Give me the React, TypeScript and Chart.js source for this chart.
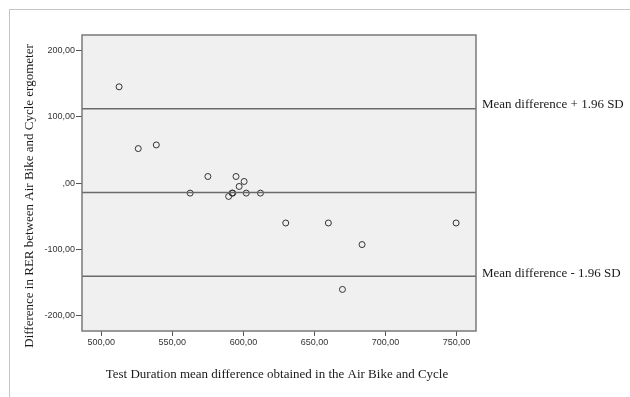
import React, { useEffect, useRef } from "react";
import { Chart, registerables } from "chart.js";

Chart.register(...registerables);

// Data (Bland–Altman style plot)
const xValues = [512.5, 526, 538.7, 562.5, 575, 589.6, 592, 592.5, 594.8, 597, 600.5, 602, 612, 629.8, 659.8, 669.7, 683.5, 749.7];
const yValues = [145, 52, 57.5, -15, 10, -20, -15, -15, 10, -5, 2.5, -15, -15, -60, -60, -160, -92.5, -60];

const meanDifference = -14;
const upperLimit = 112;
const lowerLimit = -140;

const xMin = 486.4;
const xMax = 763.7;
const yMin = -222.6;
const yMax = 223;

const xTicks = [500, 550, 600, 650, 700, 750];
const xTickLabels = ["500,00", "550,00", "600,00", "650,00", "700,00", "750,00"];
const yTicks = [-200, -100, 0, 100, 200];
const yTickLabels = ["-200,00", "-100,00", ",00", "100,00", "200,00"];

const xTitle = "Test Duration mean difference obtained in the Air Bike and Cycle";
const yTitle = "Difference in RER between Air Bike and Cycle ergometer";
const upperLabel = "Mean difference + 1.96 SD";
const lowerLabel = "Mean difference - 1.96 SD";

const SERIF = "'Liberation Serif', 'Times New Roman', serif";
const SANS = "'Liberation Sans', Arial, sans-serif";

export default function App() {
  const canvasRef = useRef<HTMLCanvasElement | null>(null);

  useEffect(() => {
    const canvas = canvasRef.current;
    if (!canvas) return;

    const points = xValues.map((x, i) => ({ x, y: yValues[i] }));
    const hLine = (v: number) => [
      { x: xMin, y: v },
      { x: xMax, y: v },
    ];

    const plotFrame = {
      id: "plotFrame",
      beforeDatasetsDraw(chart: any) {
        const { ctx, chartArea } = chart;
        ctx.save();
        ctx.fillStyle = "#f0f0f0";
        ctx.fillRect(chartArea.left, chartArea.top, chartArea.right - chartArea.left, chartArea.bottom - chartArea.top);
        ctx.restore();
      },
      afterDraw(chart: any) {
        const { ctx, chartArea, scales } = chart;
        ctx.save();
        ctx.strokeStyle = "#7a7a7a";
        ctx.lineWidth = 1.5;
        ctx.strokeRect(chartArea.left, chartArea.top, chartArea.right - chartArea.left, chartArea.bottom - chartArea.top);

        ctx.fillStyle = "#1a1a1a";
        ctx.font = `13px ${SERIF}`;
        ctx.textBaseline = "middle";
        ctx.textAlign = "left";
        ctx.fillText(upperLabel, chartArea.right + 6, scales.y.getPixelForValue(upperLimit) - 4);
        ctx.fillText(lowerLabel, chartArea.right + 6, scales.y.getPixelForValue(lowerLimit) - 3);

        ctx.textAlign = "center";
        ctx.fillText(xTitle, 277, 375);

        ctx.translate(30, 196);
        ctx.rotate(-Math.PI / 2);
        ctx.fillText(yTitle, 0, 0);
        ctx.restore();
      },
    };

    const chart = new Chart(canvas, {
      type: "scatter",
      data: {
        datasets: [
          {
            type: "line",
            data: hLine(upperLimit),
            borderColor: "#6a6a6a",
            borderWidth: 1.5,
            pointRadius: 0,
          },
          {
            type: "line",
            data: hLine(meanDifference),
            borderColor: "#6a6a6a",
            borderWidth: 1.5,
            pointRadius: 0,
          },
          {
            type: "line",
            data: hLine(lowerLimit),
            borderColor: "#6a6a6a",
            borderWidth: 1.5,
            pointRadius: 0,
          },
          {
            type: "scatter",
            data: points,
            pointRadius: 3,
            pointBorderWidth: 1,
            pointBorderColor: "#333",
            pointBackgroundColor: "rgba(0,0,0,0)",
          },
        ],
      } as any,
      options: {
        animation: false,
        responsive: false,
        devicePixelRatio: 1,
        layout: { padding: { left: 0, top: 35, right: 154, bottom: 0 } },
        plugins: { legend: { display: false }, tooltip: { enabled: false } },
        scales: {
          x: {
            type: "linear",
            min: xMin,
            max: xMax,
            afterFit(scale: any) {
              scale.height = 66;
            },
            afterBuildTicks(scale: any) {
              scale.ticks = xTicks.map((v) => ({ value: v }));
            },
            ticks: {
              callback: (v: any) => xTickLabels[xTicks.indexOf(Number(v))] ?? "",
              font: { family: SANS, size: 9 },
              color: "#333",
              padding: 1,
              maxRotation: 0,
            },
            grid: {
              drawOnChartArea: false,
              drawTicks: true,
              tickLength: 5,
              color: "#555",
            },
            border: { display: false },
          },
          y: {
            type: "linear",
            min: yMin,
            max: yMax,
            afterFit(scale: any) {
              scale.width = 82;
            },
            afterBuildTicks(scale: any) {
              scale.ticks = yTicks.map((v) => ({ value: v }));
            },
            ticks: {
              callback: (v: any) => yTickLabels[yTicks.indexOf(Number(v))] ?? "",
              font: { family: SANS, size: 9 },
              color: "#333",
              padding: 1,
            },
            grid: {
              drawOnChartArea: false,
              drawTicks: true,
              tickLength: 6,
              color: "#555",
            },
            border: { display: false },
          },
        },
      },
      plugins: [plotFrame],
    });

    return () => chart.destroy();
  }, []);

  return (
    <div style={{ position: "absolute", left: 0, top: 0, width: 630, height: 397, background: "#fff", overflow: "hidden" }}>
      <div
        style={{
          position: "absolute",
          left: 9,
          top: 9,
          width: 630,
          height: 400,
          borderTop: "1px solid #c4c4c4",
          borderLeft: "1px solid #c4c4c4",
        }}
      />
      <canvas ref={canvasRef} width={630} height={397} style={{ position: "absolute", left: 0, top: 0 }} />
    </div>
  );
}
